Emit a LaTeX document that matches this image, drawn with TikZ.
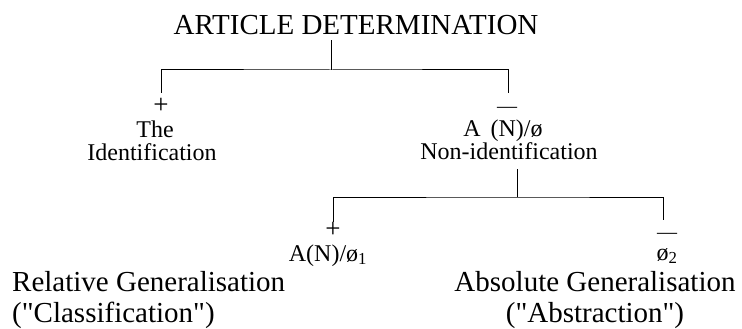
\documentclass[tikz,border=0pt]{standalone}
\usepackage{fontspec}
\setmainfont{Liberation Serif}
\usetikzlibrary{positioning}

\begin{document}
\begin{tikzpicture}[x=1pt,y=1pt]
\tikzstyle{every node}+=[inner sep=0pt]
\tikzstyle{big}=[font=\fontsize{29}{33}\selectfont, anchor=base]
\tikzstyle{small}=[font=\fontsize{24}{21}\selectfont, anchor=base]
\tikzstyle{plus}=[font=\fontsize{27}{27}\selectfont]
\tikzstyle{bar}=[font=\fontsize{20}{20}\selectfont]
\useasboundingbox (0,0) rectangle (742,-329);
% top level
\node[big] (art) at (356,-35) {ARTICLE DETERMINATION};
\coordinate (top) at (331,-70);
\coordinate (l1) at (161,-93);
\coordinate (r1) at (508,-93);
\draw[line width=1pt] ([yshift=-5pt]art.south -| top) -- (top);
\draw[line width=1pt] (l1) |- (top) -| (r1);
\node[plus] (plus1) at (161,-106) {+};
\node[small] (the) at (155,-137) {The};
\node[small] (ident) at (152,-160) {Identification};
\node[bar] (minus1) at (507,-110) {—};
\node[small] (art2) at (503,-136) {A\, (N)/ø};
\node[small] (nonid) at (509,-159) {Non-identification};
% second level
\coordinate (top2) at (517,-197);
\coordinate (l2) at (333,-222);
\coordinate (r2) at (663,-220);
\draw[line width=1pt] ([yshift=-10pt]nonid.south -| top2) -- (top2);
\draw[line width=1pt] (l2) |- (top2) -| (r2);
\node[plus] (plus2) at (333,-230) {+};
\node[small] (rel) at (328,-261) {A(N)/ø\textsubscript{1}};
\node[bar] (minus2) at (667,-236) {—};
\node[small] (abs) at (667,-260) {ø\textsubscript{2}};
\node[big, anchor=base west] (relgen) at (12,-291) {Relative Generalisation};
\node[big, anchor=base west] (relcls) at (12,-322) {(\textquotedbl Classification\textquotedbl)};
\node[big] (absgen) at (595,-291) {Absolute Generalisation};
\node[big] (abscls) at (595,-322) {(\textquotedbl Abstraction\textquotedbl)};
\end{tikzpicture}
\end{document}
